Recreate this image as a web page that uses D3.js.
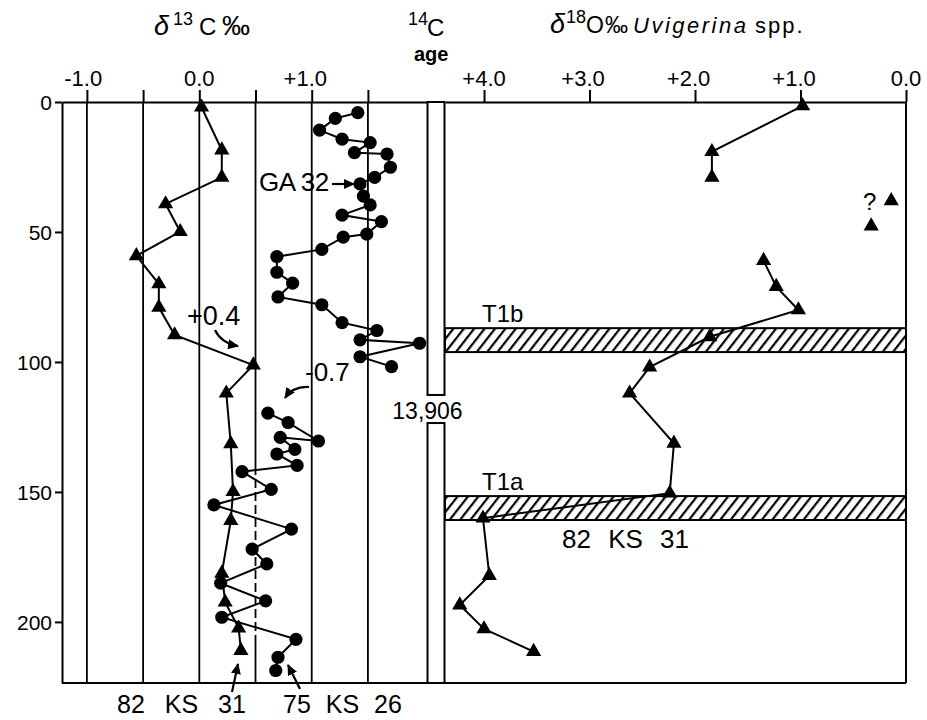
<!DOCTYPE html>
<html><head><meta charset="utf-8">
<script src="https://cdn.jsdelivr.net/npm/d3@7"></script>
<style>
body{margin:0;background:#fff}
svg{display:block;background:#fff}
text{font-family:"Liberation Sans",Arial,Helvetica,sans-serif;fill:#000}
</style>
</head><body>
<svg id="chart" width="927" height="720"></svg>
<script>
// ---------------- data ----------------
const depthTicks = [0, 50, 100, 150, 200];
const c13GridValues = [-1, -0.5, 0, 0.5, 1, 1.5];
const c13TickValues = [-1, 0, 1];
const c13TickLabels = ["-1.0", "0.0", "+1.0"];
const o18TickValues = [4, 3, 2, 1, 0];
const o18TickLabels = ["+4.0", "+3.0", "+2.0", "+1.0", "0.0"];

// core 82 KS 31, delta13C (triangles)
const ks31Depth = [2, 18.5, 29, 39.2, 49.9, 59.2, 70, 79, 89.6, 101.2, 112, 131.5, 149.9, 161, 181.3, 192.4, 202.4, 211];
const ks31C13   = [0.02, 0.20, 0.20, -0.30, -0.17, -0.56, -0.36, -0.36, -0.22, 0.48, 0.24, 0.28, 0.30, 0.28, 0.20, 0.23, 0.35, 0.37];

// core 75 KS 26, delta13C (circles); run = connected segment
const ks26Depth = [4.1, 6.3, 10.8, 14.3, 15.6, 19.5, 20, 25.1, 29, 31.5, 36.2, 39.6, 43.5, 46, 50.8, 52, 56.7, 59.5, 65.5, 69.7, 75, 78, 84.9, 87.9, 91.5, 92.8, 98, 101.8,
                   119.7, 123.3, 130.4, 129, 133.6, 135.4, 139.8, 142.2, 149, 155, 164.3, 172, 177.7, 185.1, 191.9, 198.2, 206.7, 213.6, 218.7];
const ks26C13   = [1.41, 1.21, 1.07, 1.27, 1.52, 1.38, 1.67, 1.70, 1.56, 1.43, 1.46, 1.52, 1.27, 1.62, 1.49, 1.28, 1.09, 0.69, 0.69, 0.83, 0.70, 1.09, 1.27, 1.58, 1.43, 1.96, 1.43, 1.71,
                   0.61, 0.79, 1.06, 0.72, 0.85, 0.69, 0.87, 0.38, 0.64, 0.13, 0.82, 0.47, 0.60, 0.19, 0.59, 0.20, 0.86, 0.70, 0.68];
const ks26Run   = [1,1,1,1,1,1,1,1,1,1,1,1,1,1,1,1,1,1,1,1,1,1,1,1,1,1,1,1,
                   2,2,2,2,2,2,2,2,2,2,2,2,2,2,2,2,2,2,2];

// core 82 KS 31, delta18O Uvigerina spp. (triangles); run 0 = unconnected
const o18Depth = [1.5, 19.1, 29, 38, 47.7, 61, 71, 80, 90.3, 102, 112, 131.3, 150.5, 160.1, 182.2, 193.5, 202.7, 211.4];
const o18Value = [0.98, 1.84, 1.84, 0.14, 0.33, 1.35, 1.23, 1.02, 1.86, 2.43, 2.62, 2.20, 2.24, 4.01, 3.95, 4.23, 4.00, 3.53];
const o18Run   = [1, 1, 1, 0, 0, 2, 2, 2, 2, 2, 2, 2, 2, 2, 2, 2, 2, 2];

// termination bands (depth cm)
const bandNames  = ["T1b", "T1a"];
const bandTop    = [87, 151.6];
const bandBottom = [96.2, 160.8];

// 14C age sample
const ageLabel = "13,906";
const ageGapTop = 112.7, ageGapBottom = 123.5;

// ---------------- layout ----------------
const svg = d3.select("#chart");
const depthMax = 223.5;
const y  = d3.scaleLinear().domain([0, depthMax]).range([102, 683]);
const xC = d3.scaleLinear().domain([-1.2215, 2.03]).range([62, 427.5]);
const xO = d3.scaleLinear().domain([4.37, 0]).range([445, 906]);
const colL = 427.5, colR = 444.5;
const SW = 2;

const defs = svg.append("defs");
const pat = defs.append("pattern").attr("id", "hatch").attr("patternUnits", "userSpaceOnUse")
  .attr("width", 8.2).attr("height", 10).attr("patternTransform", "rotate(38)");
pat.append("line").attr("x1", 2).attr("y1", -2).attr("x2", 2).attr("y2", 12)
  .attr("stroke", "#000").attr("stroke-width", 2.2);
defs.append("marker").attr("id", "arr").attr("markerUnits", "userSpaceOnUse")
  .attr("markerWidth", 12).attr("markerHeight", 10).attr("refX", 10).attr("refY", 5)
  .attr("orient", "auto").append("path").attr("d", "M0,0 L11,5 L0,10 z").attr("fill", "#000");

// grid lines in the d13C panel
const dashedFrom = 140, dashedTo = 205;
c13GridValues.forEach(v => {
  const gx = xC(v);
  const seg = (a, b, dash) => {
    const l = svg.append("line").attr("x1", gx).attr("x2", gx).attr("y1", y(a)).attr("y2", y(b))
      .attr("stroke", "#000").attr("stroke-width", 1.8);
    if (dash) l.attr("stroke-dasharray", "9,4");
  };
  if (v === 0.5) { seg(0, dashedFrom); seg(dashedFrom, dashedTo, true); seg(dashedTo, depthMax); }
  else seg(0, depthMax);
});

// termination bands
bandNames.forEach((n, i) => {
  svg.append("rect").attr("x", xO.range()[0]).attr("y", y(bandTop[i]))
    .attr("width", xO.range()[1] - xO.range()[0]).attr("height", y(bandBottom[i]) - y(bandTop[i]))
    .attr("fill", "url(#hatch)").attr("stroke", "#000").attr("stroke-width", SW);
  svg.append("text").attr("x", 482).attr("y", y(bandTop[i]) - 6).attr("font-size", 24).text(n);
});

// frame
svg.append("line").attr("x1", 62).attr("x2", 906).attr("y1", y(depthMax)).attr("y2", y(depthMax)).attr("stroke", "#000").attr("stroke-width", SW);
svg.append("line").attr("x1", 906).attr("x2", 906).attr("y1", y(0)).attr("y2", y(depthMax)).attr("stroke", "#000").attr("stroke-width", SW);
svg.append("line").attr("x1", colL).attr("x2", colR).attr("y1", y(0)).attr("y2", y(0)).attr("stroke", "#000").attr("stroke-width", SW);

// 14C age column
[[0, ageGapTop], [ageGapBottom, depthMax]].forEach(([a, b]) => {
  svg.append("rect").attr("x", colL).attr("y", y(a)).attr("width", colR - colL).attr("height", y(b) - y(a))
    .attr("fill", "none").attr("stroke", "#000").attr("stroke-width", SW);
});
svg.append("text").attr("x", colL).attr("y", y(ageGapTop) + 24).attr("text-anchor", "middle")
  .attr("font-size", 23).text(ageLabel);

// axes
function styleAxis(g) {
  g.selectAll("path,line").attr("stroke", "#000").attr("stroke-width", SW);
  g.selectAll("text").remove();
}
svg.append("g").attr("transform", `translate(0,${y(0)})`)
  .call(d3.axisTop(xC).tickValues(c13GridValues).tickSize(12).tickSizeOuter(0)).call(styleAxis);
svg.append("g").attr("transform", `translate(0,${y(0)})`)
  .call(d3.axisTop(xO).tickValues(o18TickValues).tickSize(12).tickSizeOuter(0)).call(styleAxis);
const yAx = svg.append("g").attr("transform", `translate(62,0)`)
  .call(d3.axisLeft(y).tickValues(depthTicks).tickSize(7).tickSizeOuter(0));
yAx.selectAll("path,line").attr("stroke", "#000").attr("stroke-width", SW);
yAx.selectAll("text").attr("font-size", 21).attr("font-family", "Liberation Sans, Arial, sans-serif")
  .attr("fill", "#000").attr("x", -10).attr("dy", "0.36em");

// top tick labels: decimal point aligned on the tick
function dotLabel(x, label, center) {
  const t = svg.append("text").attr("y", 86).attr("font-size", 22).text(label);
  if (center) { t.attr("x", x).attr("text-anchor", "middle"); return; }
  const idx = label.indexOf(".");
  const node = t.node();
  const pre = node.getSubStringLength(0, idx);
  const dot = node.getSubStringLength(idx, 1);
  t.attr("x", x - pre - dot / 2);
}
c13TickValues.forEach((v, i) => dotLabel(xC(v), c13TickLabels[i], false));
o18TickValues.forEach((v, i) => dotLabel(xO(v), o18TickLabels[i], i === 0));

// series drawing
const tri = d3.symbol().type(d3.symbolTriangle).size(100);
function drawRuns(xs, ys, runs, xScale) {
  const pts = xs.map((v, i) => ({x: xScale(v), y: y(ys[i]), run: runs ? runs[i] : 1}));
  const groups = d3.group(pts.filter(p => p.run !== 0), p => p.run);
  const line = d3.line().x(p => p.x).y(p => p.y);
  groups.forEach(g => svg.append("path").attr("d", line(g)).attr("fill", "none")
    .attr("stroke", "#000").attr("stroke-width", 2));
  return pts;
}
const p31 = drawRuns(ks31C13, ks31Depth, null, xC);
const p26 = drawRuns(ks26C13, ks26Depth, ks26Run, xC);
const pO  = drawRuns(o18Value, o18Depth, o18Run, xO);

svg.selectAll(".tri31").data(p31).join("path").attr("d", tri)
  .attr("transform", p => `translate(${p.x},${p.y})`).attr("fill", "#000");
svg.selectAll(".triO").data(pO).join("path").attr("d", tri)
  .attr("transform", p => `translate(${p.x},${p.y})`).attr("fill", "#000");
svg.selectAll(".dot26").data(p26).join("circle")
  .attr("cx", p => p.x).attr("cy", p => p.y).attr("r", 6.6).attr("fill", "#000");

// headers (pieces positioned individually)
function piece(x, yy, size, txt, opts = {}) {
  const t = svg.append("text").attr("x", x).attr("y", yy).attr("font-size", size).text(txt);
  if (opts.italic) t.attr("font-style", "italic");
  if (opts.bold) t.attr("font-weight", "bold");
  if (opts.ls) t.attr("letter-spacing", opts.ls);
  return t;
}
piece(154, 35, 27, "δ", {italic: true});
piece(173, 25, 18, "13");
piece(199, 35, 24, "C");
piece(222, 35, 28, "‰");

piece(408, 25, 18, "14");
piece(427, 36, 24, "C");
piece(414, 61, 20, "age", {bold: true});

piece(550, 33, 27, "δ", {italic: true});
piece(566, 23, 18, "18");
piece(586, 33, 23, "O");
piece(605, 33, 23, "‰");
piece(633, 33, 22, "Uvigerina", {italic: true, ls: 2.5});
piece(755, 33, 22, "spp.", {ls: 2});

// annotations
function ann(x, yy, size, txt, ws) {
  const t = svg.append("text").attr("x", x).attr("y", yy).attr("font-size", size)
    .attr("xml:space", "preserve").text(txt);
  if (ws) t.attr("word-spacing", ws);
  return t;
}
ann(259, 191, 26, "GA 32").attr("letter-spacing", -0.5);
ann(187, 325, 27, "+0.4");
ann(305, 381, 26, "-0.7");
ann(863, 210, 24, "?");
ann(117, 713, 25, "82 KS 31", 13);
ann(283, 713, 25, "75 KS 26", 8);
ann(562, 548, 26, "82 KS 31", 10);

function arrow(d) {
  svg.append("path").attr("d", d).attr("fill", "none").attr("stroke", "#000")
    .attr("stroke-width", 2.2).attr("marker-end", "url(#arr)");
}
arrow("M332,184 L354,184");
arrow("M215,330 Q221,343 238,346");
arrow("M309,387 Q293,386 285,398");
arrow("M232,692 L238,664");
arrow("M300,689 L288,665");
</script>
</body></html>
